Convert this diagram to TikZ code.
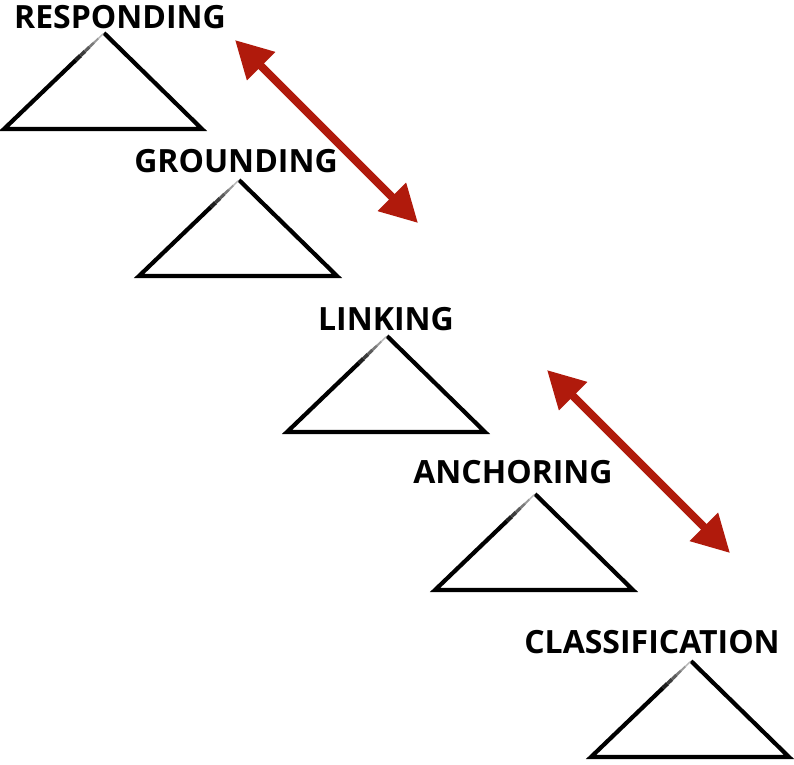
\documentclass[tikz,border=0pt]{standalone}
\usepackage{fontspec}
\setmainfont{Open Sans}
\usetikzlibrary{arrows.meta,calc}
\definecolor{arrowred}{RGB}{176,26,12}
\begin{document}
\begin{tikzpicture}[x=1pt,y=-1pt,
  lbl/.style={font=\fontsize{32}{32}\selectfont\bfseries, inner sep=0pt, anchor=base},
  tri/.style={line width=4.2pt, line join=miter, line cap=butt, black},
  link/.style={line width=8pt, arrowred, {Triangle[length=37pt,width=38pt]}-{Triangle[length=37pt,width=38pt]}}]
  \useasboundingbox (0,0) rectangle (794,764);
  % levels: name / apex x / apex y / label x / label baseline / text
  \foreach \n/\ax/\ay/\lx/\ly/\t in {
      resp/104/33/120/28/RESPONDING,
      grnd/239/180/236/172/GROUNDING,
      link/387/336/386/330/LINKING,
      anch/535/494/513/483/ANCHORING,
      clas/691/661/652/653/CLASSIFICATION}{
    \node[lbl] (\n-label) at (\lx,\ly) {\t};
    \coordinate (\n-top) at (\ax,\ay);
    \coordinate (\n-left) at (\ax-100,\ay+96);
    \coordinate (\n-right) at (\ax+98,\ay+96);
    \draw[tri] (\n-top) -- (\n-right) -- (\n-left) -- ($(\n-left)!0.72!(\n-top)$);
    % the left edge fades out toward the apex
    \foreach \i/\g in {0/88,1/76,2/64,3/52,4/40,5/28}{
      \draw[line width={4.2pt-0.55pt*\i}, black!\g, line cap=butt]
        ($(\n-left)!{0.72+0.045*\i}!(\n-top)$) -- ($(\n-left)!{0.765+0.045*\i}!(\n-top)$);
    }
  }
  \coordinate (a1) at (235,40);
  \coordinate (b1) at (418,223);
  \coordinate (a2) at (547,370);
  \coordinate (b2) at (730,553);
  \draw[link] (a1) -- (b1);
  \draw[link] (a2) -- (b2);
\end{tikzpicture}
\end{document}
